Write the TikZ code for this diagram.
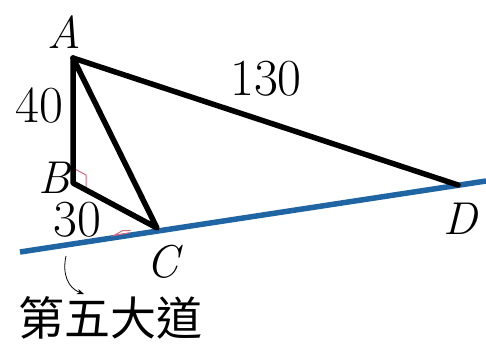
\documentclass[tikz,border=0pt]{standalone}
\usepackage{fontspec}
\newfontfamily\cjkfont{Noto Sans CJK TC}
\usetikzlibrary{positioning, arrows.meta, calc}
\definecolor{roadblue}{HTML}{1F64A3}
\definecolor{markpink}{HTML}{D9677F}

\begin{document}
\begin{tikzpicture}[x=1pt, y=-1pt,
    side/.style={line width=5.5pt, line join=round, line cap=round},
    ptlabel/.style={font=\fontsize{46}{46}\selectfont\itshape, inner sep=0pt},
    numlabel/.style={font=\fontsize{52}{52}\selectfont, inner sep=0pt}]
  \useasboundingbox (0,0) rectangle (486,348);

  % points of the figure
  \coordinate (A) at (73,58);
  \coordinate (B) at (73,183);
  \coordinate (C) at (157,228);
  \coordinate (D) at (458,185);
  \coordinate (roadL) at (20,252);
  \coordinate (roadR) at (486,181);

  % the road
  \draw[roadblue, line width=5.5pt] (roadL) -- (roadR);

  % small marks
  \draw[markpink, line width=1pt] ($(B)!15pt!(A)$) -- ++(13.2,7.1) -- ($(B)!15pt!(C)$);
  \draw[markpink, line width=1pt] ($(C)!28pt!(roadL)$) -- ($(C)!44pt!(roadL)$) -- ++(9,-5) -- ++(8,0);

  % triangle and the long side
  \draw[side] (A) -- (B) -- (C) -- cycle;
  \draw[side] (A) -- (D);

  % labels
  \node[ptlabel] (labA) at (64,32) {A};
  \node[ptlabel] (labB) at (54,178) {B};
  \node[ptlabel] (labC) at (163,262) {C};
  \node[ptlabel] (labD) at (460,219) {D};
  \node[numlabel] (lab40) at (39,106) {40};
  \node[numlabel] (lab30) at (77,220) {30};
  \node[numlabel] (lab130) at (266,79) {130};

  % street name
  \node[font=\fontsize{46}{46}\selectfont\cjkfont, inner sep=0pt] (street) at (110,318) {第五大道};
  \coordinate (tail) at (66,256);
  \coordinate (head) at (84,294);
  \draw[-{Stealth[length=7pt]}, line width=0.8pt] (tail) .. controls (62,274) and (68,288) .. (head);
\end{tikzpicture}
\end{document}
